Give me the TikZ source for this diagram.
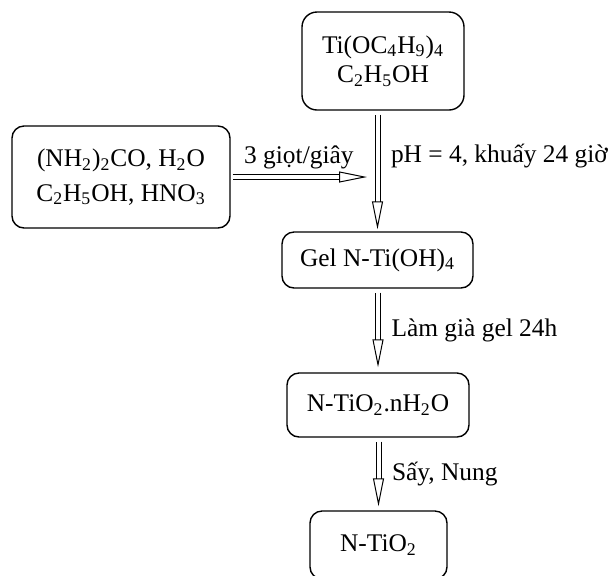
\documentclass[tikz,border=0pt,12pt]{standalone}
\usepackage{fontspec}
\setmainfont{Liberation Serif}
\usetikzlibrary{arrows.meta}
\newcommand\chsub[1]{\textsubscript{#1}}
\tikzstyle{box}=[draw,line width=.7pt,rounded corners=6pt,align=center,inner sep=2pt]
\tikzstyle{flow}=[line width=.5pt,double,double distance=2pt,-{Triangle[open,length=14pt,width=5.5pt]}]
\tikzstyle{step label}=[right,inner sep=6.5pt]

\begin{document}
\begin{tikzpicture}[x=.5pt,y=-.5pt,font=\fontsize{12.7}{15.2}\selectfont]
	\useasboundingbox (0,0) rectangle (610,575);
	\node[box,rounded corners=7.5pt,minimum width=81pt,minimum height=49pt] (ti) at (383,61)
		{Ti(OC\chsub4H\chsub9)\chsub4\\[-.5pt]C\chsub2H\chsub5OH};
	\node[box,minimum width=109pt,minimum height=51pt] (mix) at (121,177)
		{(NH\chsub2)\chsub2CO, H\chsub2O\\[2pt]C\chsub2H\chsub5OH, HNO\chsub3};
	\node[box,minimum width=95.5pt,minimum height=28pt] (gel) at (377.5,260) {Gel N-Ti(OH)\chsub4};
	\node[box,minimum width=91pt,minimum height=32pt] (hyd) at (378,405) {N-TiO\chsub2.nH\chsub2O};
	\node[box,minimum width=68.5pt,minimum height=34pt] (tio) at (378.5,545) {N-TiO\chsub2};
	\coordinate (drop) at (367,177);
	% dong chay
	\draw[flow,shorten <=1pt] (mix.east) --node[above,inner sep=4pt]{3 giọt/giây} (drop);
	\draw[flow,shorten <=2pt,shorten >=1pt] (ti.south -| gel.north) --node[step label,pos=.38]{pH = 4, khuấy 24 giờ} (gel.north);
	\draw[flow,shorten <=2pt,shorten >=2.5pt] (gel.south -| hyd.north) --node[step label,pos=.5]{Làm già gel 24h} (hyd.north);
	\draw[flow,shorten <=2pt,shorten >=2pt] (hyd.south -| tio.north) --node[step label]{Sấy, Nung} (tio.north);
\end{tikzpicture}
\end{document}
